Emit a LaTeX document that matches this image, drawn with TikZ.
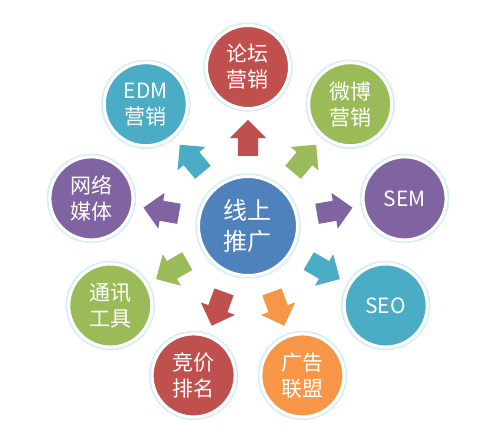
\documentclass[tikz,border=0pt]{standalone}
\usepackage{fontspec}
\setmainfont{Noto Sans CJK SC}
\usetikzlibrary{shapes.arrows}

\definecolor{hubblue}{HTML}{4F81BD}
\definecolor{offred}{HTML}{C0504D}
\definecolor{offgreen}{HTML}{9BBB59}
\definecolor{offpurple}{HTML}{8064A2}
\definecolor{offaqua}{HTML}{4BACC6}
\definecolor{offorange}{HTML}{F79646}
\definecolor{ringglow}{HTML}{D6EEF5}

\begin{document}
\begin{tikzpicture}[x=1pt, y=1pt,
    ball/.style={circle, fill=#1, draw=white, line width=3pt,
                 preaction={draw=ringglow, line width=6.5pt},
                 text=white, align=center, inner sep=0pt, outer sep=0pt,
                 minimum size=83pt, font=\fontsize{21}{26}\selectfont},
    spoke/.style={single arrow, fill=#1, draw=none,
                  inner xsep=0pt, inner ysep=10pt,
                  minimum height=36pt, minimum width=36pt,
                  single arrow head extend=8pt, single arrow tip angle=90},
    ]
\useasboundingbox (-248,-214) rectangle (234,226);

\node[ball=hubblue, minimum size=99pt, font=\fontsize{24}{31}\selectfont]
  (hub) at (0,0) {线上\\推广};

\foreach \name/\txt/\col [count=\i from 0] in {
    luntan/{论坛\\营销}/offred,
    weibo/{微博\\营销}/offgreen,
    sem/{SEM}/offpurple,
    seo/{SEO}/offaqua,
    guanggao/{广告\\联盟}/offorange,
    jingjia/{竞价\\排名}/offred,
    tongxun/{通讯\\工具}/offgreen,
    meiti/{网络\\媒体}/offpurple,
    edm/{EDM\\营销}/offaqua}
{
  \pgfmathsetmacro{\a}{90-40*\i}
  \node[spoke=\col, rotate=\a] (arr\name) at (\a:83) {};
  \node[ball=\col] (\name) at (\a:159) {\txt};
}
\end{tikzpicture}
\end{document}
